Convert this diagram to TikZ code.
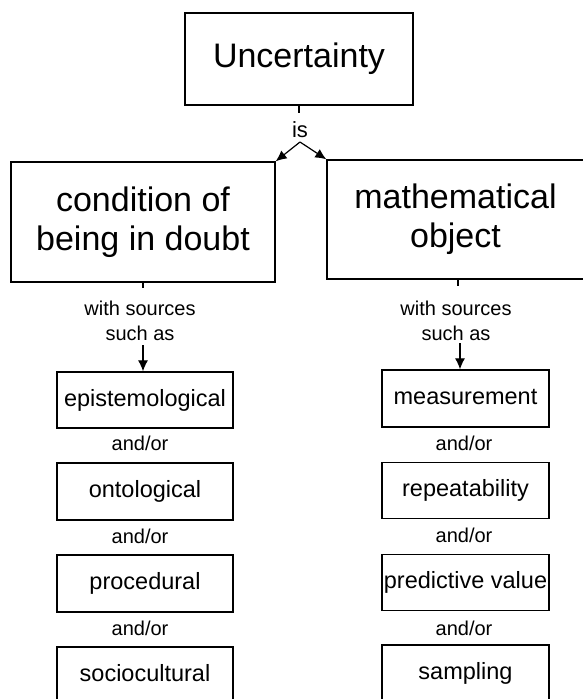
\documentclass[tikz,border=0pt]{standalone}
\usepackage{fontspec}
\setmainfont{Liberation Sans}
\usetikzlibrary{arrows.meta}
\tikzset{
 box/.style={draw, line width=1.3pt, inner sep=0pt, align=center},
 bigbox/.style={box, font=\fontsize{34}{39}\selectfont},
 smallbox/.style={box, font=\fontsize{23.5}{28}\selectfont, text height=17pt, text depth=5pt},
 lbl/.style={font=\fontsize{20}{25}\selectfont, anchor=base, inner sep=0pt},
 conn/.style={line width=1.2pt},
 arr/.style={conn, -{Latex[length=11pt,width=10pt]}}
}
\begin{document}
\begin{tikzpicture}[x=1pt,y=-1pt]
\useasboundingbox (0,0) rectangle (583,699);
\clip (0,0) rectangle (583,699);
% top
\node[bigbox, minimum width=228pt, minimum height=92pt] (unc) at (299,59) {Uncertainty};
\node[lbl, font=\fontsize{22}{26}\selectfont] (is) at (300,137) {is};
\coordinate (isTop) at (299,113);
\coordinate (apex) at (300,142);
% big boxes
\node[bigbox, minimum width=264pt, minimum height=120pt] (cond) at (143,222) {condition of\\being in doubt};
\node[bigbox, minimum width=257pt, minimum height=119pt] (math) at (455.5,219.5) {mathematical\\object};
\draw[conn] (unc.south) -- (isTop);
\draw[arr] (apex) -- (cond.north east);
\draw[arr] (apex) -- (math.north west);
% labels under big boxes
\node[lbl] (lw1) at (140,315) {with sources};
\node[lbl] (lw2) at (140,340) {such as};
\node[lbl] (rw1) at (456,315) {with sources};
\node[lbl] (rw2) at (456,340) {such as};
% left column
\node[smallbox, minimum width=176pt, minimum height=56pt] (epi) at (145,400) {epistemological};
\node[smallbox, minimum width=176pt, minimum height=57pt] (ont) at (145,491.5) {ontological};
\node[smallbox, minimum width=176pt, minimum height=57pt] (pro) at (145,583.5) {procedural};
\node[smallbox, minimum width=176pt, minimum height=57pt] (soc) at (145,675.5) {sociocultural};
\node[lbl] (la1) at (140,450) {and/or};
\node[lbl] (la2) at (140,543) {and/or};
\node[lbl] (la3) at (140,635) {and/or};
% right column
\node[smallbox, minimum width=167pt, minimum height=57pt] (mea) at (465.5,398.5) {measurement};
\node[smallbox, minimum width=167pt, minimum height=56pt] (rep) at (465.5,490.5) {repeatability};
\node[smallbox, minimum width=167pt, minimum height=56pt] (pre) at (465.5,582.5) {predictive value};
\node[smallbox, minimum width=167pt, minimum height=57pt] (sam) at (465.5,673.5) {sampling};
\node[lbl] (ra1) at (464,450) {and/or};
\node[lbl] (ra2) at (464,542) {and/or};
\node[lbl] (ra3) at (464,635) {and/or};
% stubs and arrows
\coordinate (lstub) at (143,288);
\coordinate (rstub) at (458,286);
\draw[conn] (cond.south -| lstub) -- (lstub);
\draw[conn] (math.south -| rstub) -- (rstub);
\coordinate (larr) at (143,345);
\coordinate (rarr) at (460,343);
\draw[arr] (larr) -- (larr |- epi.north);
\draw[arr] (rarr) -- (rarr |- mea.north);
\end{tikzpicture}
\end{document}
